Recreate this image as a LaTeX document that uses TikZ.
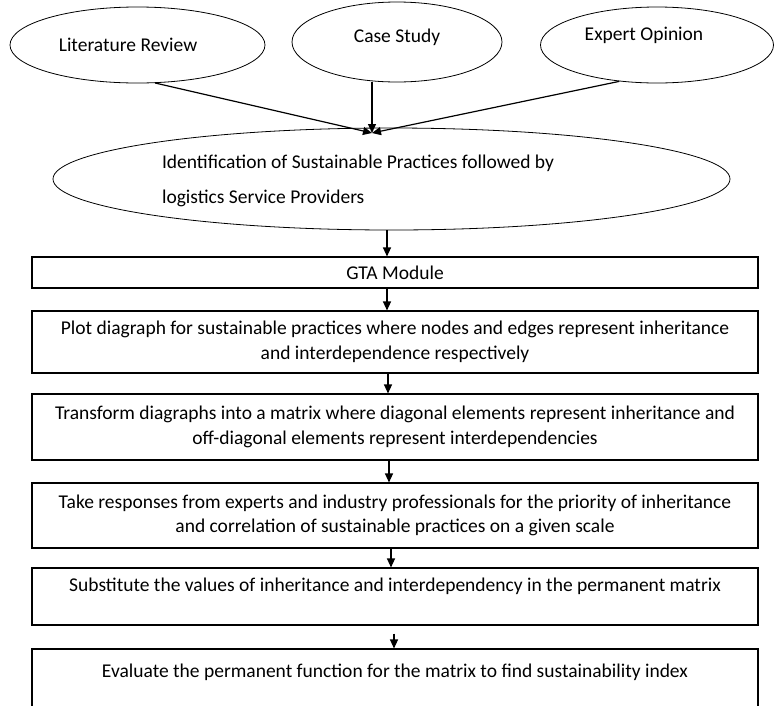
\documentclass[tikz,border=0pt]{standalone}
\usepackage{fontspec}
\setmainfont{Carlito}
\usetikzlibrary{shapes.geometric,arrows.meta}

\tikzset{
  oval/.style={draw, ellipse, inner sep=0pt, line width=0.8pt},
  stepbox/.style={draw, rectangle, inner sep=0pt, minimum width=726pt,
                  align=center, line width=1.1pt},
  flow/.style={-{Triangle[length=9pt,width=8pt]}, line width=1.2pt}
}

\begin{document}
\begin{tikzpicture}[x=1pt, y=-1pt, font=\fontsize{19.5}{24.5}\selectfont]
    \useasboundingbox (0,0) rectangle (774,705);

    \node [oval, minimum width=255pt, minimum height=76pt,
           label={[xshift=-9.5pt]center:Literature Review}] (lit) at (137.5,45) {};
    \node [oval, minimum width=210pt, minimum height=80pt,
           label={[yshift=5pt]center:Case Study}] (case) at (397,42) {};
    \node [oval, minimum width=233pt, minimum height=76pt,
           label={[xshift=-13pt, yshift=10pt]center:Expert Opinion}] (exp) at (657,45) {};
    \node [oval, minimum width=677pt, minimum height=102pt,
           label={[align=left, xshift=-33.5pt, yshift=-1.5pt]center:Identification of Sustainable Practices followed by\\[10.5pt] logistics Service Providers}] (ident) at (391.5,179) {};
    \coordinate (meet) at (372,133);

    \node [stepbox, minimum height=31pt] (gta) at (395,272.5) {GTA Module};
    \node [stepbox, minimum height=62pt] (plot) at (395,342)
      {Plot diagraph for sustainable practices where nodes and edges represent inheritance\\ and interdependence respectively};
    \node [stepbox, minimum height=66pt] (trans) at (395,427)
      {Transform diagraphs into a matrix where diagonal elements represent inheritance and\\ off-diagonal elements represent interdependencies};
    \node [stepbox, minimum height=65pt] (resp) at (395,515.5)
      {Take responses from experts and industry professionals for the priority of inheritance\\ and correlation of sustainable practices on a given scale};
    \node [stepbox, minimum height=57pt] (subs) at (395,596.5)
      {Substitute the values of inheritance and interdependency in the permanent matrix\\ \mbox{}};
    \node [stepbox, minimum height=68pt] (eval) at (395,683)
      {Evaluate the permanent function for the matrix to find sustainability index\\ \mbox{}};

    \draw [flow] (lit.-65) -- (meet);
    \draw [flow] (meet |- case.south) -- (meet);
    \draw [flow] (exp.-136) -- (meet);
    \draw [flow] ([xshift=-4.5pt]ident.south) -- ([xshift=-8pt]gta.north);
    \draw [flow] ([xshift=-8pt]gta.south) -- ([xshift=-8pt]plot.north);
    \draw [flow] ([xshift=-7pt]plot.south) -- ([xshift=-7pt]trans.north);
    \draw [flow] ([xshift=-6pt]trans.south) -- ([xshift=-6pt]resp.north);
    \draw [flow] ([xshift=-4pt]resp.south) -- ([xshift=-4pt]subs.north);
    \draw [flow, shorten <=8pt] ([xshift=-1pt]subs.south) -- ([xshift=-1pt]eval.north);
\end{tikzpicture}
\end{document}
